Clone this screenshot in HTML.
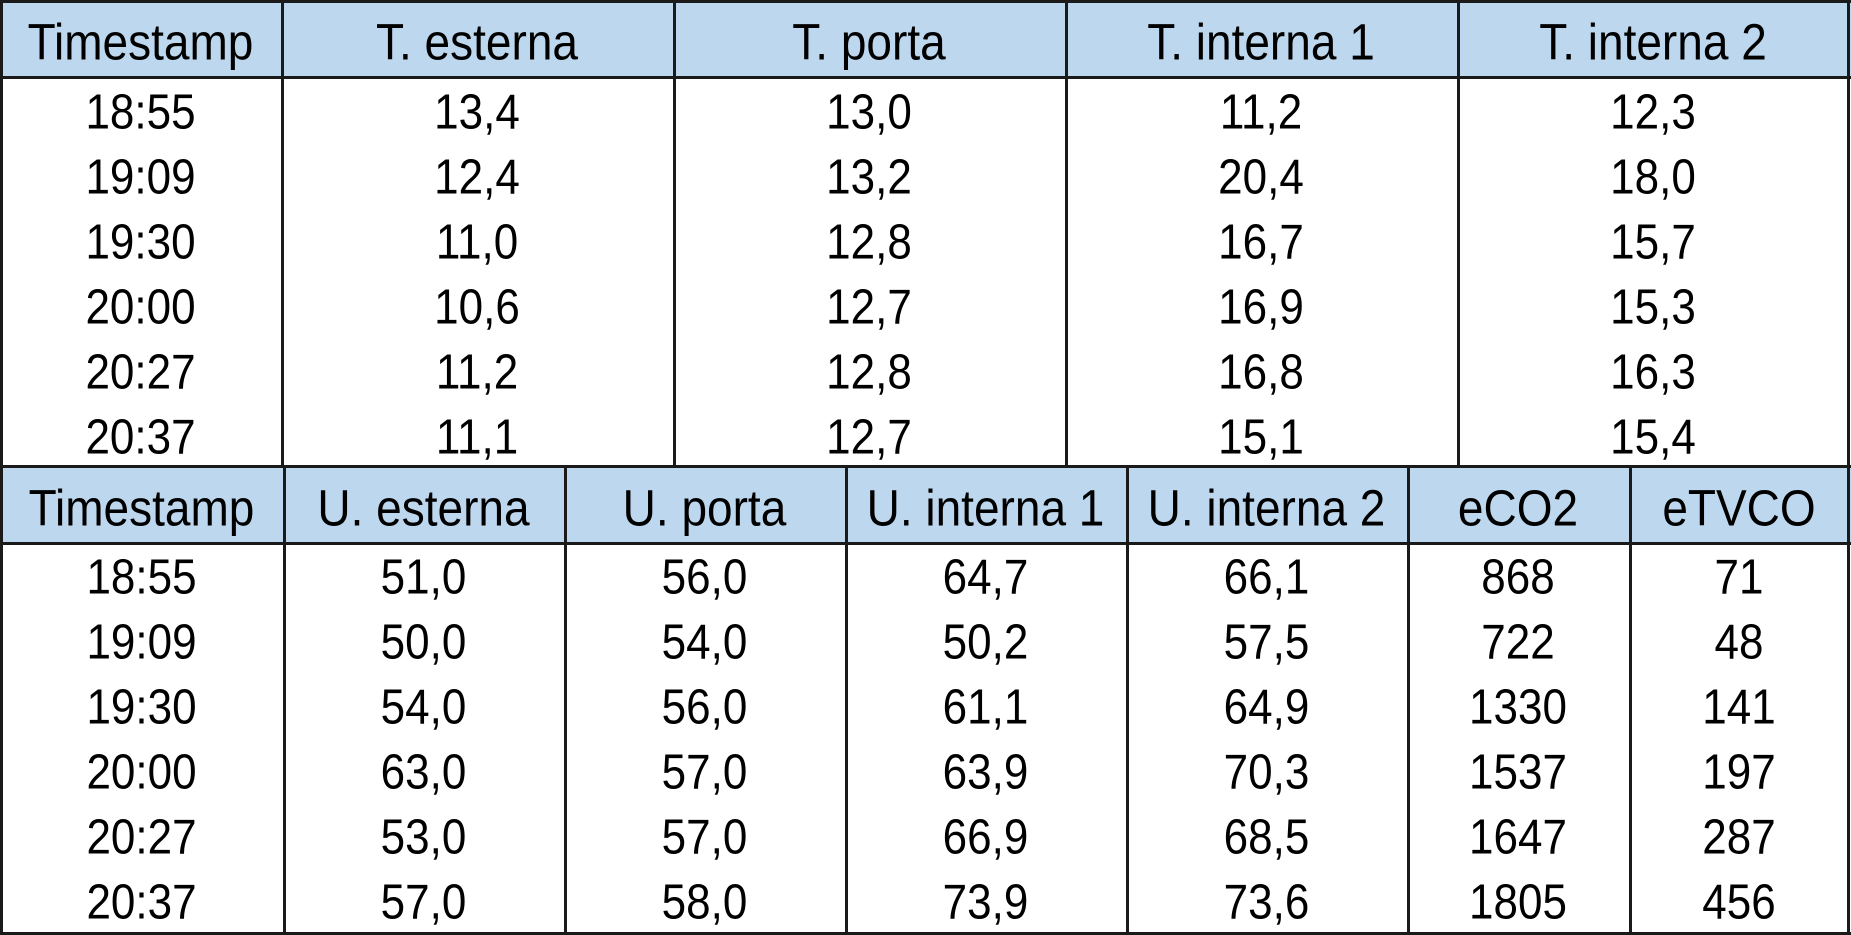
<!DOCTYPE html>
<html><head><meta charset="utf-8">
<style>
html,body{margin:0;padding:0;background:#fff;}
#wrap{position:relative;width:1851px;height:935px;overflow:hidden;font-family:"Liberation Sans",sans-serif;color:#000;}
.hdr{position:absolute;background:#BDD7EE;}
.ln{position:absolute;background:#1a1a1a;}
.t{position:absolute;font-size:44px;line-height:50px;height:50px;text-align:center;white-space:nowrap;transform:scaleY(1.12);}
.h{font-size:46px;transform:scaleY(1.1);}
</style></head>
<body>
<div id="wrap"></div>
<script>
const topCols=["Timestamp","T. esterna","T. porta","T. interna 1","T. interna 2"];
const topRows=[["18:55","13,4","13,0","11,2","12,3"],["19:09","12,4","13,2","20,4","18,0"],["19:30","11,0","12,8","16,7","15,7"],["20:00","10,6","12,7","16,9","15,3"],["20:27","11,2","12,8","16,8","16,3"],["20:37","11,1","12,7","15,1","15,4"]];
const botCols=["Timestamp","U. esterna","U. porta","U. interna 1","U. interna 2","eCO2","eTVCO"];
const botRows=[["18:55","51,0","56,0","64,7","66,1","868","71"],["19:09","50,0","54,0","50,2","57,5","722","48"],["19:30","54,0","56,0","61,1","64,9","1330","141"],["20:00","63,0","57,0","63,9","70,3","1537","197"],["20:27","53,0","57,0","66,9","68,5","1647","287"],["20:37","57,0","58,0","73,9","73,6","1805","456"]];
const W=document.getElementById('wrap');
function box(cls,x,y,w,h){const d=document.createElement('div');d.className=cls;d.style.left=x+'px';d.style.top=y+'px';d.style.width=w+'px';d.style.height=h+'px';W.appendChild(d);return d;}
function table(cols,rows,edges,y0,hb,hc,rc,name){
  const hd=box('hdr',0,y0,1851,hb-y0);
  
  
  cols.forEach((c,i)=>{const x=edges[i],w=edges[i+1]-edges[i];const t=box('t h',x,hc-25,w,50);t.textContent=c;
    
    });
  rows.forEach((r,j)=>r.forEach((v,i)=>{const x=edges[i],w=edges[i+1]-edges[i];const t=box('t',x,rc+65*j-25,w,50);t.textContent=v;
    
    }));
}
const topE=[0,281,673,1065,1457,1849];
const botE=[0,283,564,845,1126,1407,1629,1849];
table(topCols,topRows,topE,2,77,42,113,'temperature-table');
table(botCols,botRows,botE,468,543,508,578,'humidity-table');
[[0,0,1851,3],[0,76,1851,3],[0,465,1851,3],[0,542,1851,3],[0,932,1851,3]].forEach(a=>{const l=box('ln',...a);
  
  });
[0,281,673,1065,1457,1847].forEach(x=>{const l=box('ln',x,0,3,468);
  
  });
[0,283,564,845,1126,1407,1629,1847].forEach(x=>{const l=box('ln',x,466,3,469);
  
  });
</script>
</body></html>
